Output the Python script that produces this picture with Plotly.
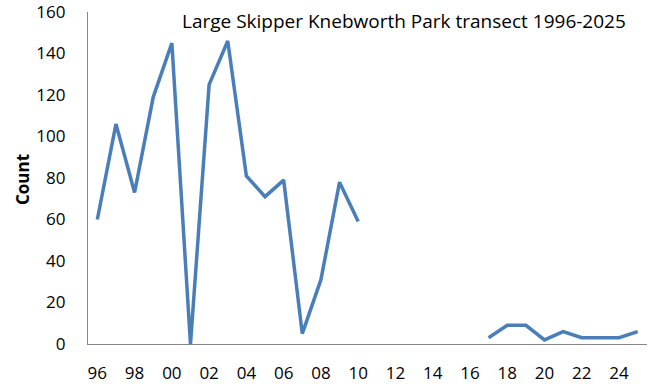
import plotly.graph_objects as go

years = list(range(1996, 2026))
counts = [60, 106, 73, 119, 145, 0, 125, 146, 81, 71, 79, 5, 31, 78, 59,
          None, None, None, None, None, None,
          3, 9, 9, 2, 6, 3, 3, 3, 6]
tick_years = list(range(1996, 2026, 2))
tick_labels = [f"{y % 100:02d}" for y in tick_years]
y_ticks = [0, 20, 40, 60, 80, 100, 120, 140, 160]
title_text = "Large Skipper Knebworth Park transect 1996-2025"

FONT = "Open Sans"
TOP = 12
PLOT_H = 344 - TOP

fig = go.Figure()
fig.add_trace(go.Scatter(
    x=years, y=counts, mode="lines",
    line=dict(color="#4a7ebb", width=3.5),
    connectgaps=False, showlegend=False, hoverinfo="x+y",
))

fig.update_layout(
    width=652, height=392,
    margin=dict(l=88, r=5, t=TOP, b=48, autoexpand=False),
    paper_bgcolor="white", plot_bgcolor="white",
    font=dict(family=FONT, size=17, color="#000000"),
    xaxis=dict(
        range=[1995.5, 2025.5], tickmode="array",
        tickvals=tick_years, ticktext=tick_labels,
        showgrid=False, zeroline=False, showline=True,
        linecolor="#868686", linewidth=1.3, ticks="",
        ticklabelstandoff=13, automargin=False,
        ticklabeloverflow="allow",
        tickfont=dict(family=FONT, size=17),
    ),
    yaxis=dict(
        range=[0, 160], tickmode="array", tickvals=y_ticks,
        showgrid=False, zeroline=False, showline=True,
        linecolor="#868686", linewidth=1.3, ticks="",
        ticklabelstandoff=18, automargin=False,
        ticklabeloverflow="allow",
        tickfont=dict(family=FONT, size=17),
    ),
    annotations=[
        dict(text=title_text, xref="paper", yref="paper",
             x=(628 - 88) / 559, y=(344 - 21) / PLOT_H,
             xanchor="right", yanchor="middle", showarrow=False,
             font=dict(family=FONT, size=19, color="#000000")),
        dict(text="<b>Count</b>", xref="paper", yref="paper",
             x=0, xshift=-66, y=(344 - 180) / PLOT_H,
             xanchor="center", yanchor="middle", textangle=-90,
             showarrow=False,
             font=dict(family=FONT, size=17, color="#000000")),
    ],
)

fig.write_html("out.html", config={"displayModeBar": False},
               post_script="document.body.style.margin='0';")
